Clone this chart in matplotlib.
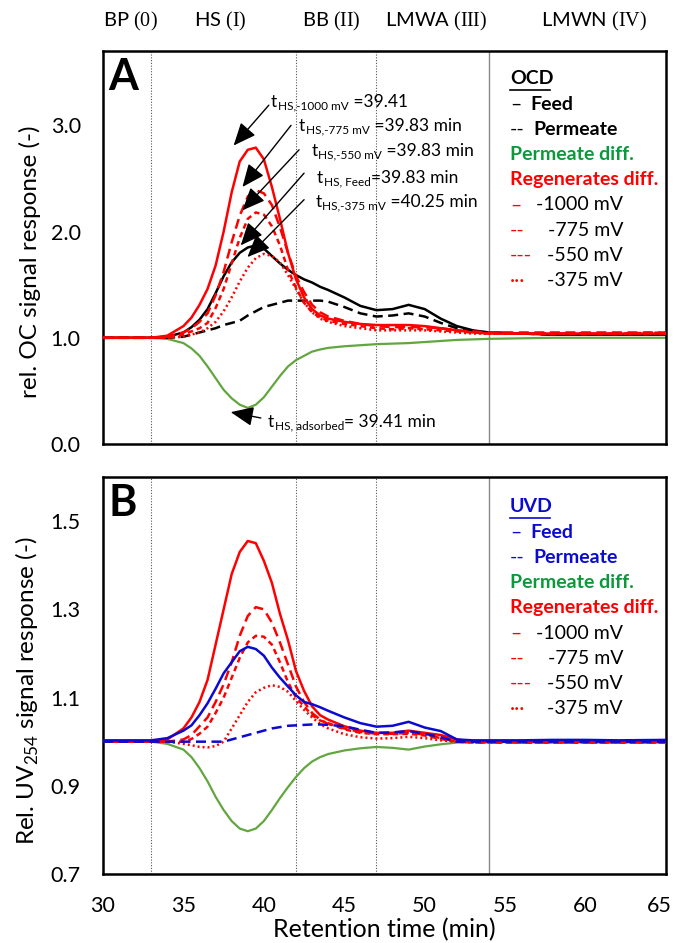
import matplotlib
matplotlib.use("Agg")
import matplotlib.pyplot as plt
from matplotlib.lines import Line2D
from matplotlib.transforms import ScaledTranslation

plt.rcParams["font.family"] = ["Lato", "DejaVu Sans"]
plt.rcParams["mathtext.fontset"] = "custom"
plt.rcParams["mathtext.rm"] = "Liberation Serif"


# retention time grid (min)
time = [30, 32, 33, 34, 35, 35.5, 36, 36.5, 37, 37.5, 38, 38.5, 39, 39.5, 40, 40.5, 41, 41.5,
        42, 42.5, 43, 43.5, 44, 45, 46, 47, 48, 49, 50, 51, 52, 53, 54, 56, 58, 60, 62, 65]

# panel A - OCD
ocd_feed = [1.0, 1.0, 1.0, 1.01, 1.05, 1.10, 1.17, 1.27, 1.42, 1.58, 1.71, 1.80, 1.85, 1.87, 1.84, 1.77, 1.70, 1.64,
            1.59, 1.55, 1.52, 1.48, 1.45, 1.38, 1.30, 1.26, 1.27, 1.31, 1.27, 1.18, 1.11, 1.07, 1.05, 1.04, 1.03, 1.03, 1.03, 1.03]
ocd_perm = [1.0, 1.0, 1.0, 1.0, 1.01, 1.03, 1.05, 1.07, 1.09, 1.12, 1.14, 1.16, 1.21, 1.25, 1.29, 1.31, 1.33, 1.35,
            1.35, 1.35, 1.35, 1.35, 1.34, 1.29, 1.23, 1.20, 1.21, 1.23, 1.20, 1.14, 1.09, 1.06, 1.05, 1.04, 1.03, 1.03, 1.03, 1.03]
ocd_perm_diff = [1.0, 1.0, 1.0, 0.99, 0.95, 0.90, 0.83, 0.73, 0.62, 0.51, 0.43, 0.37, 0.34, 0.37, 0.44, 0.54, 0.64, 0.73,
                 0.79, 0.83, 0.87, 0.89, 0.905, 0.92, 0.93, 0.94, 0.945, 0.95, 0.96, 0.97, 0.98, 0.985, 0.99, 0.995, 1.0, 1.0, 1.0, 1.0]
ocd_1000 = [1.0, 1.0, 1.0, 1.02, 1.11, 1.19, 1.31, 1.46, 1.68, 2.0, 2.37, 2.66, 2.77, 2.79, 2.68, 2.42, 2.12, 1.80,
            1.55, 1.38, 1.27, 1.21, 1.18, 1.15, 1.13, 1.12, 1.12, 1.12, 1.11, 1.09, 1.07, 1.05, 1.04, 1.04, 1.04, 1.04, 1.04, 1.04]
ocd_775 = [1.0, 1.0, 1.0, 1.01, 1.05, 1.09, 1.15, 1.23, 1.40, 1.62, 1.90, 2.15, 2.33, 2.39, 2.36, 2.25, 2.04, 1.80,
           1.58, 1.43, 1.31, 1.24, 1.20, 1.16, 1.13, 1.11, 1.10, 1.10, 1.10, 1.09, 1.07, 1.06, 1.05, 1.05, 1.05, 1.05, 1.05, 1.05]
ocd_550 = [1.0, 1.0, 1.0, 1.0, 1.03, 1.06, 1.09, 1.14, 1.28, 1.46, 1.70, 1.94, 2.12, 2.18, 2.16, 2.05, 1.87, 1.64,
           1.47, 1.33, 1.24, 1.19, 1.16, 1.13, 1.11, 1.09, 1.08, 1.09, 1.08, 1.07, 1.06, 1.05, 1.04, 1.04, 1.04, 1.04, 1.04, 1.05]
ocd_375 = [1.0, 1.0, 1.0, 1.0, 1.01, 1.03, 1.05, 1.09, 1.15, 1.25, 1.38, 1.53, 1.66, 1.75, 1.79, 1.77, 1.71, 1.59,
           1.46, 1.33, 1.24, 1.18, 1.15, 1.11, 1.09, 1.07, 1.07, 1.07, 1.07, 1.06, 1.05, 1.04, 1.04, 1.04, 1.04, 1.04, 1.04, 1.04]

# panel B - UVD
uvd_feed = [1.003, 1.003, 1.003, 1.008, 1.025, 1.037, 1.06, 1.087, 1.12, 1.155, 1.18, 1.205, 1.215, 1.21, 1.195, 1.168, 1.145, 1.125,
            1.105, 1.09, 1.085, 1.078, 1.07, 1.055, 1.042, 1.034, 1.036, 1.045, 1.032, 1.024, 1.005, 1.003, 1.003, 1.003, 1.004, 1.004, 1.003, 1.004]
uvd_perm = [1.0, 1.0, 1.0, 1.0, 1.0, 1.0, 1.0, 1.0, 1.0, 1.0, 1.005, 1.01, 1.015, 1.02, 1.025, 1.03, 1.033, 1.036,
            1.037, 1.038, 1.039, 1.039, 1.038, 1.035, 1.027, 1.02, 1.021, 1.024, 1.018, 1.01, 1.0, 1.0, 1.0, 1.0, 1.0, 1.0, 1.0, 1.0]
uvd_perm_diff = [1.0, 1.0, 1.0, 0.995, 0.982, 0.965, 0.94, 0.91, 0.875, 0.845, 0.82, 0.803, 0.797, 0.803, 0.82, 0.845, 0.872, 0.897,
                 0.92, 0.94, 0.955, 0.965, 0.972, 0.98, 0.985, 0.988, 0.986, 0.982, 0.989, 0.994, 0.998, 1.0, 1.0, 1.0, 1.0, 1.0, 1.0, 1.0]
uvd_1000 = [1.0, 1.0, 1.0, 1.005, 1.03, 1.055, 1.09, 1.14, 1.22, 1.30, 1.38, 1.43, 1.455, 1.45, 1.41, 1.36, 1.29, 1.23,
            1.16, 1.115, 1.08, 1.06, 1.05, 1.035, 1.025, 1.02, 1.02, 1.025, 1.02, 1.015, 1.005, 1.0, 1.0, 0.999, 0.999, 0.999, 0.999, 0.999]
uvd_775 = [1.0, 1.0, 1.0, 1.0, 1.005, 1.015, 1.035, 1.055, 1.09, 1.13, 1.18, 1.24, 1.285, 1.305, 1.30, 1.27, 1.225, 1.175,
           1.125, 1.09, 1.065, 1.05, 1.04, 1.03, 1.022, 1.018, 1.018, 1.02, 1.016, 1.008, 1.0, 0.998, 0.998, 0.998, 0.998, 0.998, 0.998, 0.998]
uvd_550 = [1.0, 1.0, 1.0, 1.0, 1.0, 1.006, 1.018, 1.034, 1.065, 1.10, 1.145, 1.19, 1.225, 1.24, 1.238, 1.22, 1.18, 1.135,
           1.10, 1.08, 1.06, 1.048, 1.042, 1.028, 1.02, 1.017, 1.017, 1.018, 1.014, 1.006, 1.0, 0.998, 0.998, 0.998, 0.998, 0.998, 0.998, 0.998]
uvd_375 = [1.0, 1.0, 1.0, 1.0, 0.995, 0.992, 0.988, 0.987, 0.99, 1.0, 1.03, 1.06, 1.09, 1.112, 1.122, 1.128, 1.124, 1.113,
           1.092, 1.072, 1.055, 1.04, 1.03, 1.017, 1.01, 1.007, 1.008, 1.011, 1.008, 1.003, 1.0, 0.999, 0.999, 0.999, 0.999, 0.999, 0.999, 0.999]

fraction_bounds = [33, 42, 47]
fraction_end = 54
fraction_labels = ["BP $\\mathrm{(0)}$", "HS $\\mathrm{(I)}$", "BB $\\mathrm{(II)}$",
                   "LMWA $\\mathrm{(III)}$", "LMWN $\\mathrm{(IV)}$"]
fraction_label_x = [31.7, 37.3, 44.2, 50.7, 60.5]
potentials = ["-1000 mV", "-775 mV", "-550 mV", "-375 mV"]

RED = "#ff0000"
GREEN_LINE = "#62a640"
GREEN_TEXT = "#0a9a3a"
BLUE = "#0a0ad0"

W, H = 676, 943
fig = plt.figure(figsize=(W / 100, H / 100), dpi=100)


def px(x, y):
    return x / W, 1 - y / H


def box(left, top, right, bottom):
    return [left / W, 1 - bottom / H, (right - left) / W, (bottom - top) / H]


axA = fig.add_axes(box(103, 51, 666, 444))
axB = fig.add_axes(box(103, 477, 666, 874))

long_dash = (0, (4, 2.2))
short_dash = (0, (2.2, 1.6))
dots = (0, (0.8, 1.2))

for ax in (axA, axB):
    for b in fraction_bounds:
        ax.axvline(b, color="#555555", lw=0.8, ls=(0, (1, 1.5)), zorder=1)
    ax.axvline(fraction_end, color="#888888", lw=1.0, zorder=1)
    ax.set_xlim(30, 65)
    for s in ax.spines.values():
        s.set_linewidth(1.8)
    ax.tick_params(length=0, labelsize=15.5, pad=16)

# panel A curves
axA.plot(time, ocd_perm_diff, color=GREEN_LINE, lw=1.6, zorder=2)
axA.plot(time, ocd_perm, color="black", lw=1.8, ls=long_dash, zorder=3)
axA.plot(time, ocd_feed, color="black", lw=1.8, zorder=3)
axA.plot(time, ocd_375, color=RED, lw=1.8, ls=dots, zorder=4)
axA.plot(time, ocd_550, color=RED, lw=1.8, ls=short_dash, zorder=4)
axA.plot(time, ocd_775, color=RED, lw=1.8, ls=long_dash, zorder=4)
axA.plot(time, ocd_1000, color=RED, lw=1.8, zorder=4)

axA.set_ylim(0, 3.7)
axA.set_yticks([0, 1, 2, 3])
axA.set_yticklabels(["0.0", "1.0", "2.0", "3.0"])
axA.set_xticks([30, 35, 40, 45, 50, 55, 60, 65])
axA.set_xticklabels([])
axA.set_ylabel("rel. OC signal response (-)", fontsize=17.5)
axA.yaxis.set_label_coords(-0.11, 0.464)

# panel B curves
axB.plot(time, uvd_perm_diff, color=GREEN_LINE, lw=1.6, zorder=2)
axB.plot(time, uvd_375, color=RED, lw=1.8, ls=dots, zorder=3)
axB.plot(time, uvd_550, color=RED, lw=1.8, ls=short_dash, zorder=3)
axB.plot(time, uvd_775, color=RED, lw=1.8, ls=long_dash, zorder=3)
axB.plot(time, uvd_1000, color=RED, lw=1.8, zorder=3)
axB.plot(time, uvd_perm, color=BLUE, lw=1.8, ls=long_dash, zorder=4)
axB.plot(time, uvd_feed, color=BLUE, lw=1.8, zorder=4)

axB.set_ylim(0.7, 1.6)
axB.set_yticks([0.7, 0.9, 1.1, 1.3, 1.5])
axB.set_yticklabels(["0.7", "0.9", "1.1", "1.3", "1.5"])
axB.set_xticks([30, 35, 40, 45, 50, 55, 60, 65])
axB.set_xticklabels(["30", "35", "40", "45", "50", "55", "60", "65"])
axB.set_ylabel("Rel. UV$_\\mathregular{254}$ signal response (-)", fontsize=17.5)
axB.yaxis.set_label_coords(-0.11, 0.462)
axB.set_xlabel("Retention time (min)", fontsize=18, labelpad=1)

# keep the last tick label inside the picture
last = axB.get_xticklabels()[-1]
last.set_transform(last.get_transform() + ScaledTranslation(-5 / 72, 0, fig.dpi_scale_trans))

axA.text(0.01, 0.985, "A", transform=axA.transAxes, fontsize=31, fontweight="bold", va="top", ha="left")
axB.text(0.01, 0.985, "B", transform=axB.transAxes, fontsize=31, fontweight="bold", va="top", ha="left")

# fraction names above panel A
for lab, xpos in zip(fraction_labels, fraction_label_x):
    axA.text(xpos, 1.075, lab, transform=axA.get_xaxis_transform(), fontsize=14.5,
             ha="center", va="center")


def sub_label(ax, pos, sub, rest, size=12.5):
    # "t" + smaller subscript + rest of the label, chained one after another
    t1 = ax.text(pos[0], pos[1], "t", fontsize=size, ha="left", va="baseline", zorder=6)
    t2 = ax.annotate(sub, xy=(1, 0), xycoords=t1, xytext=(0.5, 0.5), textcoords="offset points",
                     fontsize=size * 0.68, ha="left", va="baseline", zorder=6)
    ax.annotate(rest, xy=(1, 0), xycoords=(t2, t1), fontsize=size, ha="left", va="bottom", zorder=6)


# peak annotations in panel A
notes = [
    ("HS,-1000 mV", " =39.41", (40.44, 3.17), (40.31, 3.19), (38.12, 2.81)),
    ("HS,-775 mV", " =39.83 min", (42.19, 2.95), (41.69, 3.00), (38.67, 2.42)),
    ("HS,-550 mV", " =39.83 min", (42.94, 2.71), (42.19, 2.77), (38.67, 2.20)),
    ("HS, Feed", "=39.83 min", (43.31, 2.46), (42.50, 2.55), (38.56, 1.87)),
    ("HS,-375 mV", " =40.25 min", (43.19, 2.23), (42.50, 2.30), (38.98, 1.76)),
    ("HS, adsorbed", "= 39.41 min", (40.25, 0.16), (39.81, 0.245), (37.94, 0.30)),
]
for sub, rest, tpos, tail, head in notes:
    sub_label(axA, tpos, sub, rest)
    axA.annotate("", xy=head, xytext=tail,
                 arrowprops=dict(arrowstyle="-|>,head_length=0.7,head_width=0.3",
                                 color="black", lw=1.0, mutation_scale=20,
                                 shrinkA=0, shrinkB=0),
                 zorder=6)


def legend_block(top, name, main_color):
    step = 25.2
    x0 = 510
    fs = 14
    fig.text(*px(x0, top), name, color=main_color, fontsize=fs, fontweight="bold", va="center")
    fig.add_artist(Line2D([x0 / W, (x0 + 40) / W], [1 - (top + 11) / H] * 2, color=main_color, lw=1.2))
    y = top + step
    fig.text(*px(x0, y), "\u2013", color=main_color, fontsize=fs, va="center")
    fig.text(*px(x0 + 20, y), "Feed", color=main_color, fontsize=fs, fontweight="bold", va="center")
    y += step
    fig.text(*px(x0, y), "--", color=main_color, fontsize=fs, va="center")
    fig.text(*px(x0 + 23, y), "Permeate", color=main_color, fontsize=fs, fontweight="bold", va="center")
    y += step
    fig.text(*px(x0, y), "Permeate diff.", color=GREEN_TEXT, fontsize=fs, fontweight="bold", va="center")
    y += step
    fig.text(*px(x0, y), "Regenerates diff.", color=RED, fontsize=fs, fontweight="bold", va="center")
    for sym, pot in zip(["\u2013", "--", "---", "\u00b7\u00b7\u00b7"], potentials):
        y += step
        fig.text(*px(x0, y), sym, color=RED, fontsize=fs, va="center")
        fig.text(*px(623, y), pot, color="black", fontsize=fs, va="center", ha="right")


legend_block(79, "OCD", "black")
legend_block(507, "UVD", BLUE)

fig.savefig("out.png", dpi=100)
